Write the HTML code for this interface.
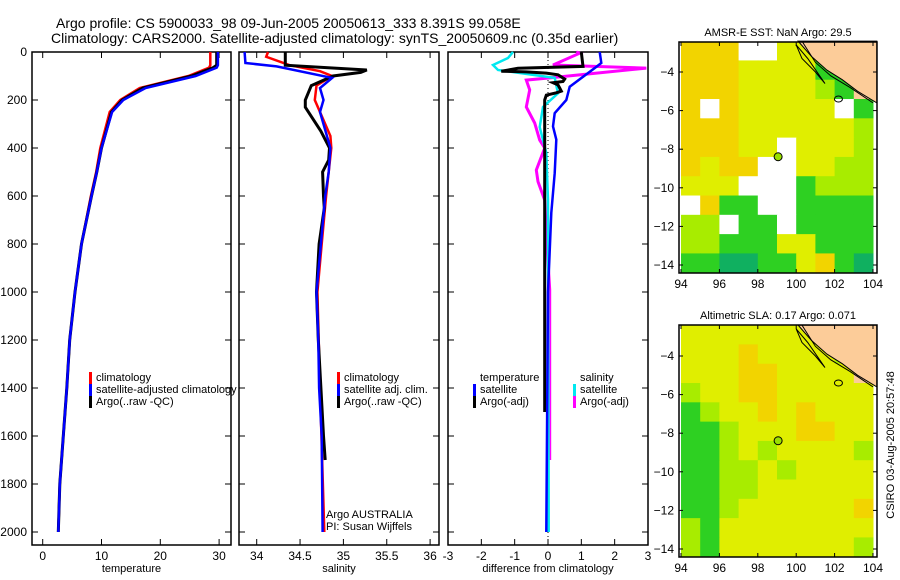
<!DOCTYPE html>
<html><head><meta charset="utf-8">
<style>
html,body{margin:0;padding:0;background:#fff;}
svg{display:block;font-family:"Liberation Sans","DejaVu Sans",sans-serif;}
</style></head>
<body>
<svg id="c" width="900" height="580" viewBox="0 0 900 580" xmlns="http://www.w3.org/2000/svg">
<text x="56" y="28" font-size="14">Argo profile: CS 5900033_98 09-Jun-2005 20050613_333 8.391S 99.058E</text>
<text x="51" y="43" font-size="14">Climatology: CARS2000. Satellite-adjusted climatology: synTS_20050609.nc (0.35d earlier)</text>
<g id="g"></g>
</svg>
<script>
// ---- data ----
const depthTicks=[0,200,400,600,800,1000,1200,1400,1600,1800,2000];
const tempTicks=[0,10,20,30];
const salTicks=[34,34.5,35,35.5,36];
const diffTicks=[-3,-2,-1,0,1,2,3];
const lonTicks=[94,96,98,100,102,104];
const latTicks=[-4,-6,-8,-10,-12,-14];

const tDepth=[0,55,65,100,150,200,250,400,500,600,800,1000,1200,1400,1600,1800,2000];
const tempArgo=[29.6,29.6,29.0,25.3,17.0,13.5,11.7,10.0,9.2,8.3,6.6,5.5,4.6,4.1,3.5,2.9,2.65];
const tempClim=[28.5,28.5,28.3,24.8,16.5,13.2,11.4,9.8,9.1,8.2,6.6,5.5,4.6,4.1,3.5,2.9,2.65];
const tempSat=[29.8,29.8,29.6,26.0,17.5,13.7,11.8,10.0,9.2,8.3,6.6,5.5,4.6,4.1,3.5,2.9,2.65];

const sSatD=[0,46,60,108,150,200,250,400,500,600,800,1000,1200,1400,1600,2000];
const salSat=[33.86,33.87,34.23,34.87,34.73,34.77,34.73,34.85,34.83,34.79,34.74,34.69,34.71,34.72,34.75,34.76];
const sClimD=[0,20,55,80,100,140,200,350,400,600,800,1000,1400,2000];
const salClim=[34.13,34.11,34.38,34.73,34.87,34.69,34.67,34.85,34.86,34.8,34.75,34.7,34.73,34.78];
const sArgoD=[0,55,75,85,100,140,200,230,280,330,400,450,500,600,650,800,1000,1200,1400,1600,1700];
const salArgo=[34.33,34.33,35.27,35.2,34.88,34.63,34.56,34.56,34.65,34.74,34.84,34.83,34.76,34.77,34.78,34.72,34.69,34.71,34.74,34.77,34.79];

const dTSD=[0,46,62,145,200,255,310,365,505,670,1000,2000];
const diffTSat=[1.55,1.6,1.45,0.65,0.55,0.2,0.15,0.25,0.2,0.1,0.0,-0.05];
const dTAD=[0,60,68,80,83,88,95,113,123,128,137,150,163,170,180,200,992,1350,1500];
const diffTArgo=[1.0,1.05,-0.9,-1.4,-0.65,-0.05,0.3,0.5,0.45,0.15,0.3,0.35,0.4,0.25,-0.05,-0.1,-0.1,-0.1,-0.1];
const dSSD=[0,25,54,75,108,172,229,313,367,420,617,2000];
const diffSSat=[-1.05,-1.2,-1.65,-1.5,0.2,0.3,-0.15,-0.25,-0.15,-0.05,0.0,0.02];
const dSAD=[0,5,54,67,108,117,158,229,296,367,400,492,540,617,755,990,1700];
const diffSArgo=[0.85,0.95,0.15,2.95,0.05,-0.65,-0.55,-0.65,-0.4,-0.25,-0.1,-0.35,-0.3,-0.1,-0.05,0.05,0.05];

// map cells (lon 94..104, lat -2.4..-14.4, 1 deg cells)
const sstGrid=["ooowwyyylL","oooyyyyggL","oooyyyylgL","owoyyyyywg","oooyyyyyyl","oooyywyyyl","oyoowwyyll","yyywwwglll","woggwwgggg","llwggwgggg","llgggyyggg","ggttggyogt"];
const slaGrid=["yyyyyyyyLL","yyyoyyyylL","yyyooyyyyL","lyyooyyyyy","glyyoyoyyy","gglyyyooyy","gglylyyyyl","ggllylyyyy","ggllyyyyyy","gglyyyyyyo","lgyyyyyyyy","lgyyyyyyyl"];
const cellColors={o:"#f2d400",y:"#e0ee00",l:"#a8ec00",g:"#2ed022",t:"#10b060",w:"#ffffff",L:"#fccc99"};
const argoLon=99.058, argoLat=-8.391;

// ---- helpers ----
const NS="http://www.w3.org/2000/svg";
const G=document.getElementById('g');
function el(t,a,p){const e=document.createElementNS(NS,t);for(const k in a)e.setAttribute(k,a[k]);(p||G).appendChild(e);return e;}
const TOP=52, BOT=545, D0=52, DS=0.24;
const yD=d=>D0+d*DS;
const xT=v=>42.7+v*5.88;
const xS=v=>256.7+(v-34)*86.7;
const xDf=v=>548+v*33.33;

function panel(name,x0,x1,xf,ticks,title,showY){
  const r=el('rect',{x:x0,y:TOP,width:x1-x0,height:BOT-TOP,fill:'none',stroke:'#000','stroke-width':1.5});
  
  
  depthTicks.forEach(d=>{
    el('line',{x1:x0,x2:x0+6,y1:yD(d),y2:yD(d),stroke:'#000'});
    el('line',{x1:x1-6,x2:x1,y1:yD(d),y2:yD(d),stroke:'#000'});
    if(showY){const t=el('text',{x:x0-5,y:yD(d)+4,'font-size':12,'text-anchor':'end'});t.textContent=d;
      
      }
  });
  ticks.forEach(v=>{
    const x=xf(v);
    el('line',{x1:x,x2:x,y1:TOP,y2:TOP+6,stroke:'#000'});
    el('line',{x1:x,x2:x,y1:BOT-6,y2:BOT,stroke:'#000'});
    const t=el('text',{x:x,y:BOT+15,'font-size':12,'text-anchor':'middle'});t.textContent=v;
    
    
  });
  const tt=el('text',{x:(x0+x1)/2,y:572,'font-size':11,'text-anchor':'middle'});tt.textContent=title;
  
  
}
function line(xs,ds,xf,color,w,name){
  const pts=xs.map((v,i)=>xf(v).toFixed(1)+','+yD(ds[i]).toFixed(1)).join(' ');
  const p=el('polyline',{points:pts,fill:'none',stroke:color,'stroke-width':w,'stroke-linejoin':'miter'});
  
  
}
function legend(x,y,items){
  items.forEach((it,i)=>{
    if(it[1]) el('rect',{x:x,y:y+i*12-9,width:3,height:12,fill:it[1]});
    const t=el('text',{x:x+7,y:y+i*12,'font-size':11});t.textContent=it[0];
    
    
  });
}

// panel 1 temperature
panel('temperature-panel',32,231,xT,tempTicks,'temperature',true);
line(tempClim,tDepth,xT,'#ff0000',2.5,'temp-climatology-line');
line(tempArgo,tDepth,xT,'#000000',3,'temp-argo-line');
line(tempSat,tDepth,xT,'#0000ff',2.5,'temp-satellite-line');
legend(89,381,[['climatology','#ff0000'],['satellite-adjusted climatology','#0000ff'],['Argo(..raw -QC)','#000000']]);

// panel 2 salinity
panel('salinity-panel',239,439,xS,salTicks,'salinity',false);
line(salClim,sClimD,xS,'#ff0000',2.5,'sal-climatology-line');
line(salArgo,sArgoD,xS,'#000000',3,'sal-argo-line');
line(salSat,sSatD,xS,'#0000ff',2.5,'sal-satellite-line');
legend(337,381,[['climatology','#ff0000'],['satellite adj. clim.','#0000ff'],['Argo(..raw -QC)','#000000']]);
legend(319,518,[['Argo AUSTRALIA',null],['PI: Susan Wijffels',null]]);

// panel 3 difference
panel('difference-panel',448,648,xDf,diffTicks,'difference from climatology',false);
el('line',{x1:548,x2:548,y1:TOP,y2:BOT,stroke:'#000','stroke-dasharray':'1,3'});
line(diffSArgo,dSAD,xDf,'#ff00ff',3,'diff-sal-argo-line');
line(diffSSat,dSSD,xDf,'#00e8f0',2.5,'diff-sal-satellite-line');
line(diffTArgo,dTAD,xDf,'#000000',3,'diff-temp-argo-line');
line(diffTSat,dTSD,xDf,'#0000ff',2.5,'diff-temp-satellite-line');
legend(473,381,[['temperature',null],['satellite','#0000ff'],['Argo(-adj)','#000000']]);
legend(573,381,[['salinity',null],['satellite','#00e8f0'],['Argo(-adj)','#ff00ff']]);

// maps
const xL=lon=>681+(lon-94)*19.2;
function map(name,top,bot,lat4y,lat14y,grid,title){
  const yL=lat=>lat4y+(-4-lat)*(lat14y-lat4y)/10;
  const L=679,R=877;
  grid.forEach((row,ri)=>{
    [...row].forEach((c,ci)=>{
      const lat=-2.4-ri, lon=94+ci;
      const y0=Math.max(top,yL(lat)), y1=Math.min(bot,yL(lat-1));
      const x0=Math.max(L,xL(lon)), x1=Math.min(R,xL(lon+1));
      const r=el('rect',{x:x0,y:y0,width:x1-x0+0.5,height:y1-y0+0.5,fill:cellColors[c]});
      
      
    });
  });
  const land=[[100.1,-2.4],[100.8,-3.2],[101.6,-3.9],[102.4,-4.4],[103.2,-5],[104.2,-5.6],[104.2,-2.4]];
  const lp=el('polygon',{points:land.map(p=>xL(p[0])+','+yL(p[1])).join(' '),fill:'#fccc99',stroke:'#000','stroke-width':1});
  
  
  el('polyline',{points:[[100.3,-2.4],[101,-3.5],[101.8,-4.2],[102.8,-4.8],[104,-5.6]].map(p=>xL(p[0])+','+yL(p[1])).join(' '),fill:'none',stroke:'#000','stroke-width':1});
  el('polygon',{points:[[100,-2.6],[100.6,-3.3],[101.5,-4.6],[101,-4.0],[100.3,-3.3]].map(p=>xL(p[0])+','+yL(p[1])).join(' '),fill:'none',stroke:'#000','stroke-width':1});
  el('ellipse',{cx:xL(102.2),cy:yL(-5.4),rx:4,ry:3,fill:'none',stroke:'#000'});
  const c=el('circle',{cx:xL(argoLon),cy:yL(argoLat),r:4,fill:'#9ae000',stroke:'#000','stroke-width':1});
  
  
  const fr=el('rect',{x:L,y:top,width:R-L,height:bot-top,fill:'none',stroke:'#000','stroke-width':1.5});
  
  
  lonTicks.forEach(v=>{const x=xL(v);
    el('line',{x1:x,x2:x,y1:top,y2:top+4,stroke:'#000'});el('line',{x1:x,x2:x,y1:bot-4,y2:bot,stroke:'#000'});
    const t=el('text',{x:x,y:bot+15,'font-size':12,'text-anchor':'middle'});t.textContent=v;
    
    });
  latTicks.forEach(v=>{const y=yL(v);
    el('line',{x1:L,x2:L+4,y1:y,y2:y,stroke:'#000'});el('line',{x1:R-4,x2:R,y1:y,y2:y,stroke:'#000'});
    const t=el('text',{x:L-5,y:y+4,'font-size':12,'text-anchor':'end'});t.textContent='\u2212'+(-v);
    
    });
  const tt=el('text',{x:778,y:top-6,'font-size':11,'text-anchor':'middle'});tt.textContent=title;
  
  
}
map('sst-map',42,273,72,265,sstGrid,'AMSR-E SST: NaN Argo: 29.5');
map('sla-map',325,557,356,549,slaGrid,'Altimetric SLA: 0.17 Argo: 0.071');
const cs=el('text',{x:0,y:0,'font-size':11,'text-anchor':'middle',transform:'translate(894,445) rotate(-90)'});
cs.textContent='CSIRO 03-Aug-2005 20:57:48';


</script>
</body></html>
